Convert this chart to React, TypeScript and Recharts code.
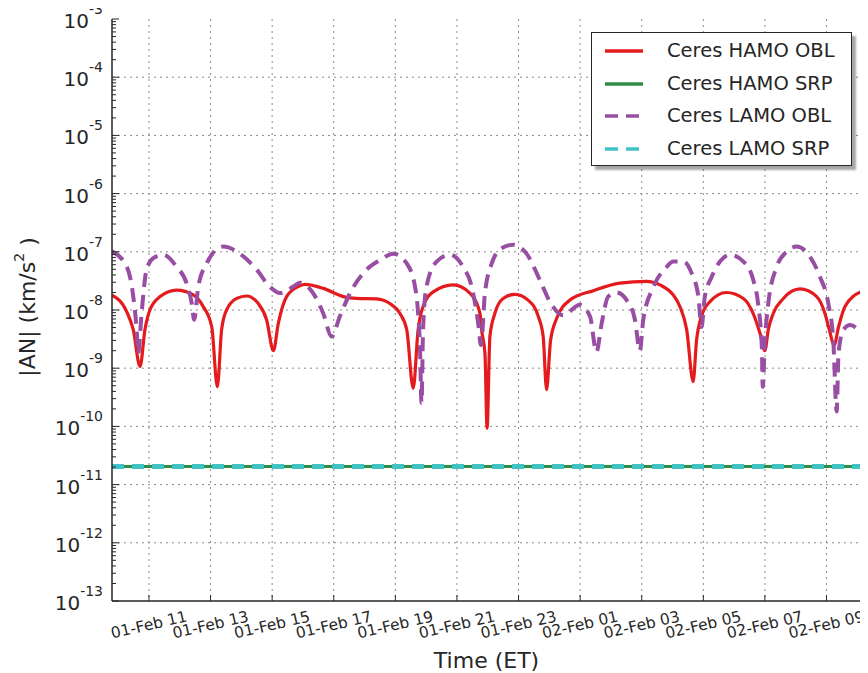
import React from "react";
import { LineChart, Line, XAxis, YAxis, CartesianGrid, Legend, Label } from "recharts";

// time in hours from 01-Feb 00:00 ET, values |AN| in km/s^2
const hourTicks = [11, 13, 15, 17, 19, 21, 23, 25, 27, 29, 31, 33];
const decadeExps = [-13, -12, -11, -10, -9, -8, -7, -6, -5, -4, -3];
const timeDomain: [number, number] = [9.8, 34.12];

const hamoObl: [number, number][] = [
  [9.8, 1.8e-8], [10.28, 9.3e-9], [10.49, 4.6e-9], [10.71, 1.07e-9], [10.87, 4.6e-9],
  [11.03, 1.0e-8], [11.36, 1.7e-8], [11.9, 2.2e-8], [12.44, 1.82e-8], [12.76, 1.15e-8],
  [13.04, 5.1e-9], [13.22, 4.8e-10], [13.36, 4.6e-9], [13.52, 1.0e-8], [13.85, 1.58e-8],
  [14.17, 1.74e-8], [14.55, 1.29e-8], [14.82, 6.8e-9], [15.04, 2.0e-9], [15.2, 5.9e-9],
  [15.47, 1.7e-8], [15.9, 2.6e-8], [16.06, 2.75e-8], [16.66, 2.35e-8], [17.31, 1.7e-8],
  [17.74, 1.58e-8], [18.39, 1.55e-8], [18.82, 1.29e-8], [19.15, 8.7e-9], [19.37, 4.6e-9],
  [19.58, 4.5e-10], [19.74, 4.6e-9], [19.9, 1.15e-8], [20.23, 2.05e-8], [20.88, 2.7e-8],
  [21.42, 1.95e-8], [21.75, 8.7e-9], [21.8, 4.6e-9], [21.91, 1.8e-9], [21.98, 9.3e-11],
  [22.07, 3.5e-9], [22.23, 8.7e-9], [22.5, 1.58e-8], [22.88, 1.86e-8], [23.31, 1.48e-8],
  [23.64, 7.8e-9], [23.8, 3.5e-9], [23.91, 4.3e-10], [24.04, 3.0e-9], [24.24, 7.2e-9],
  [24.67, 1.48e-8], [25.43, 2.15e-8], [26.29, 2.9e-8], [27.16, 3.1e-8], [27.59, 2.7e-8],
  [28.02, 1.82e-8], [28.24, 1.15e-8], [28.46, 4.6e-9], [28.67, 5.9e-10], [28.78, 3.0e-9],
  [28.94, 7.8e-9], [29.21, 1.38e-8], [29.75, 2.0e-8], [30.3, 1.58e-8], [30.62, 8.7e-9],
  [30.84, 4.0e-9], [31.0, 2.0e-9], [31.11, 4.6e-9], [31.27, 8.7e-9], [31.6, 1.58e-8],
  [32.14, 2.3e-8], [32.68, 1.7e-8], [32.95, 8.7e-9], [33.09, 4.6e-9], [33.25, 2.5e-9],
  [33.39, 5.1e-9], [33.6, 1.15e-8], [34.12, 2.05e-8],
];

const lamoObl: [number, number][] = [
  [9.8, 1.02e-7], [10.28, 5.5e-8], [10.49, 1.7e-8], [10.6, 4.6e-9], [10.65, 1.8e-9],
  [10.76, 8.7e-9], [10.92, 4.9e-8], [11.14, 7.8e-8], [11.46, 8.9e-8], [11.9, 5.5e-8],
  [12.22, 2.9e-8], [12.39, 1.29e-8], [12.47, 6.8e-9], [12.6, 2.5e-8], [12.87, 6.3e-8],
  [13.41, 1.23e-7], [13.95, 9.3e-8], [14.5, 4.9e-8], [14.93, 2.5e-8], [15.25, 1.95e-8],
  [15.68, 2.5e-8], [15.9, 2.95e-8], [16.33, 1.95e-8], [16.66, 8.7e-9], [16.93, 3.5e-9],
  [17.2, 7.8e-9], [17.53, 1.95e-8], [18.06, 4.9e-8], [18.5, 7.2e-8], [18.93, 9.3e-8],
  [19.37, 6.3e-8], [19.64, 2.5e-8], [19.74, 8.7e-9], [19.8, 2.3e-9], [19.85, 2.5e-10],
  [19.9, 4.6e-9], [20.01, 2.5e-8], [20.34, 6.8e-8], [20.77, 8.9e-8], [21.2, 5.5e-8],
  [21.48, 2.5e-8], [21.69, 5.9e-9], [21.78, 2.5e-9], [21.91, 1.95e-8], [22.13, 6.3e-8],
  [22.45, 1.15e-7], [22.83, 1.32e-7], [23.26, 9.3e-8], [23.69, 3.3e-8], [24.02, 1.38e-8],
  [24.45, 8.1e-9], [24.99, 1.23e-8], [25.32, 7.8e-9], [25.53, 1.9e-9], [25.7, 5.9e-9],
  [25.91, 1.7e-8], [26.18, 2.0e-8], [26.51, 1.48e-8], [26.78, 6.8e-9], [26.94, 2.0e-9],
  [27.05, 6.8e-9], [27.38, 2.5e-8], [27.81, 5.5e-8], [28.02, 6.8e-8], [28.35, 6.8e-8],
  [28.62, 4.3e-8], [28.84, 1.7e-8], [28.94, 5.1e-9], [29.05, 1.7e-8], [29.27, 3.7e-8],
  [29.54, 6.8e-8], [29.87, 8.9e-8], [30.3, 6.8e-8], [30.62, 3.3e-8], [30.79, 1.15e-8],
  [30.9, 2.3e-9], [30.93, 4.8e-10], [31.0, 3.0e-9], [31.11, 1.29e-8], [31.38, 5.5e-8],
  [31.7, 1.0e-7], [32.03, 1.23e-7], [32.46, 8.3e-8], [32.79, 3.7e-8], [33.06, 1.29e-8],
  [33.22, 3.0e-9], [33.33, 1.8e-10], [33.39, 1.8e-9], [33.55, 4.6e-9], [33.77, 5.5e-9],
  [34.12, 4.0e-9],
];

const hamoSrp: [number, number][] = [[9.8, 2.05e-11], [34.12, 2.05e-11]];
const lamoSrp: [number, number][] = [[9.8, 2.05e-11], [34.12, 2.05e-11]];

const FONT = "'DejaVu Sans', sans-serif";
const INK = "#262626";

const series = [
  { name: "Ceres HAMO OBL", points: hamoObl, color: "#e41a1c", width: 3.2, dash: undefined as string | undefined },
  { name: "Ceres HAMO SRP", points: hamoSrp, color: "#2f8c45", width: 3, dash: undefined },
  { name: "Ceres LAMO OBL", points: lamoObl, color: "#984ea3", width: 4, dash: "14 8" },
  { name: "Ceres LAMO SRP", points: lamoSrp, color: "#3fc3c6", width: 5, dash: "12 8" },
];

const majorTicks = decadeExps.map((e) => Math.pow(10, e));
const minorTicks = decadeExps.slice(0, -1).flatMap((e) =>
  [2, 3, 4, 5, 6, 7, 8, 9].map((m) => m * Math.pow(10, e))
);
const yTicks = [...majorTicks, ...minorTicks].sort((a, b) => a - b);
const gridDecades = majorTicks.slice(1, -1);

const isMajor = (v: number) => {
  const e = Math.round(Math.log10(v));
  return Math.abs(v / Math.pow(10, e) - 1) < 1e-6;
};

const hourLabel = (h: number) => {
  const day = h < 24 ? "01" : "02";
  const hh = String(h % 24).padStart(2, "0");
  return `${day}-Feb ${hh}`;
};

const LeftTick = (props: any) => {
  const { x, y, payload } = props;
  const v = payload.value;
  const major = isMajor(v);
  const exp = Math.round(Math.log10(v));
  return (
    <g>
      <line x1={x} x2={x + (major ? 7 : 4)} y1={y} y2={y} stroke={INK} strokeWidth={1} />
      {major && (
        <text x={x - 9} y={y} textAnchor="end" fill={INK} fontFamily={FONT}>
          <tspan fontSize={20} dy={9}>10</tspan>
          <tspan fontSize={14} dy={-14}>{`${exp}`}</tspan>
        </text>
      )}
    </g>
  );
};

const RightTick = (props: any) => {
  const { x, y, payload } = props;
  const major = isMajor(payload.value);
  return <line x1={x} x2={x - (major ? 7 : 4)} y1={y} y2={y} stroke={INK} strokeWidth={1} />;
};

const BottomTick = (props: any) => {
  const { x, y, payload } = props;
  const cy = y + 24;
  return (
    <g>
      <line x1={x} x2={x} y1={y} y2={y - 6} stroke={INK} strokeWidth={1} />
      <text
        x={x}
        y={cy}
        textAnchor="middle"
        dominantBaseline="central"
        fontSize={15.5}
        fontFamily={FONT}
        fill={INK}
        transform={`rotate(-13, ${x}, ${cy})`}
      >
        {hourLabel(payload.value)}
      </text>
    </g>
  );
};

const TopTick = (props: any) => {
  const { x, y } = props;
  return <line x1={x} x2={x} y1={y} y2={y + 6} stroke={INK} strokeWidth={1} />;
};

const YTitle = (props: any) => {
  const vb = props.viewBox;
  const cx = 19.5;
  const cy = vb.y + vb.height / 2 - 3;
  return (
    <text
      x={cx}
      y={cy}
      textAnchor="middle"
      dominantBaseline="central"
      fontSize={22}
      fontFamily={FONT}
      fill={INK}
      transform={`rotate(-90, ${cx}, ${cy})`}
    >
      |AN| (km/s
      <tspan fontSize={14} dy={-9}>2</tspan>
      <tspan dy={9}> )</tspan>
    </text>
  );
};

const XTitle = (props: any) => {
  const vb = props.viewBox;
  return (
    <text x={vb.x + vb.width / 2} y={vb.y + 67} textAnchor="middle" fontSize={22} fontFamily={FONT} fill={INK}>
      Time (ET)
    </text>
  );
};

const LegendBox = () => (
  <div
    style={{
      position: "relative",
      width: 261,
      height: 134,
      boxSizing: "border-box",
      background: "#fff",
      border: `1.5px solid ${INK}`,
      boxShadow: "4px 4px 2px rgba(0,0,0,0.35)",
      fontFamily: FONT,
      fontSize: 19.5,
      color: INK,
    }}
  >
    {series.map((s, i) => (
      <div key={s.name} style={{ position: "absolute", left: 0, top: 18 + i * 32.5 - 13, height: 26, width: "100%" }}>
        <svg width={40} height={26} style={{ position: "absolute", left: 13, top: 0 }}>
          <line
            x1={0}
            x2={38}
            y1={13}
            y2={13}
            stroke={s.color}
            strokeWidth={3.5}
            strokeDasharray={s.dash ? "13 8" : undefined}
          />
        </svg>
        <span style={{ position: "absolute", left: 75, top: 0, lineHeight: "26px", whiteSpace: "nowrap" }}>
          {s.name}
        </span>
      </div>
    ))}
  </div>
);

export default function App() {
  return (
    <div style={{ width: 860, height: 673, marginTop: -8, fontFamily: FONT }}>
      <LineChart width={860} height={673} margin={{ top: 19, right: 7, bottom: 0, left: 0 }}>
        <CartesianGrid
          xAxisId="b"
          yAxisId="l"
          horizontalValues={gridDecades}
          verticalValues={hourTicks}
          stroke="#8a8a8a"
          strokeDasharray="2 4"
          strokeWidth={1}
        />
        <XAxis
          xAxisId="b"
          dataKey="t"
          type="number"
          domain={timeDomain}
          allowDataOverflow
          ticks={hourTicks}
          interval={0}
          height={72}
          tickSize={0}
          tickMargin={0}
          tickLine={false}
          axisLine={{ stroke: INK, strokeWidth: 1.5 }}
          tick={(p: any) => <BottomTick {...p} />}
        >
          <Label content={(p: any) => <XTitle {...p} />} />
        </XAxis>
        <XAxis
          xAxisId="t"
          orientation="top"
          dataKey="t"
          type="number"
          domain={timeDomain}
          allowDataOverflow
          ticks={hourTicks}
          interval={0}
          height={0}
          tickSize={0}
          tickMargin={0}
          tickLine={false}
          axisLine={{ stroke: INK, strokeWidth: 1.5 }}
          tick={(p: any) => <TopTick {...p} />}
        />
        <YAxis
          yAxisId="l"
          scale="log"
          type="number"
          domain={[1e-13, 1e-3]}
          allowDataOverflow
          ticks={yTicks}
          interval={0}
          width={104}
          tickSize={0}
          tickMargin={0}
          tickLine={false}
          axisLine={{ stroke: INK, strokeWidth: 1.5 }}
          tick={(p: any) => <LeftTick {...p} />}
        >
          <Label content={(p: any) => <YTitle {...p} />} />
        </YAxis>
        <YAxis
          yAxisId="r"
          orientation="right"
          scale="log"
          type="number"
          domain={[1e-13, 1e-3]}
          allowDataOverflow
          ticks={yTicks}
          interval={0}
          width={0}
          tickSize={0}
          tickMargin={0}
          tickLine={false}
          axisLine={{ stroke: INK, strokeWidth: 1.5 }}
          tick={(p: any) => <RightTick {...p} />}
        />
        {series.map((s) => (
          <Line
            key={s.name}
            name={s.name}
            xAxisId="b"
            yAxisId="l"
            data={s.points.map(([t, v]) => ({ t, v }))}
            dataKey="v"
            type="monotone"
            stroke={s.color}
            strokeWidth={s.width}
            strokeDasharray={s.dash}
            dot={false}
            activeDot={false}
            isAnimationActive={false}
          />
        ))}
        <Legend
          layout="vertical"
          align="center"
          verticalAlign="middle"
          content={() => <LegendBox />}
          wrapperStyle={{ position: "absolute", left: 583, top: 32, width: 261, height: 134 }}
        />
      </LineChart>
    </div>
  );
}
